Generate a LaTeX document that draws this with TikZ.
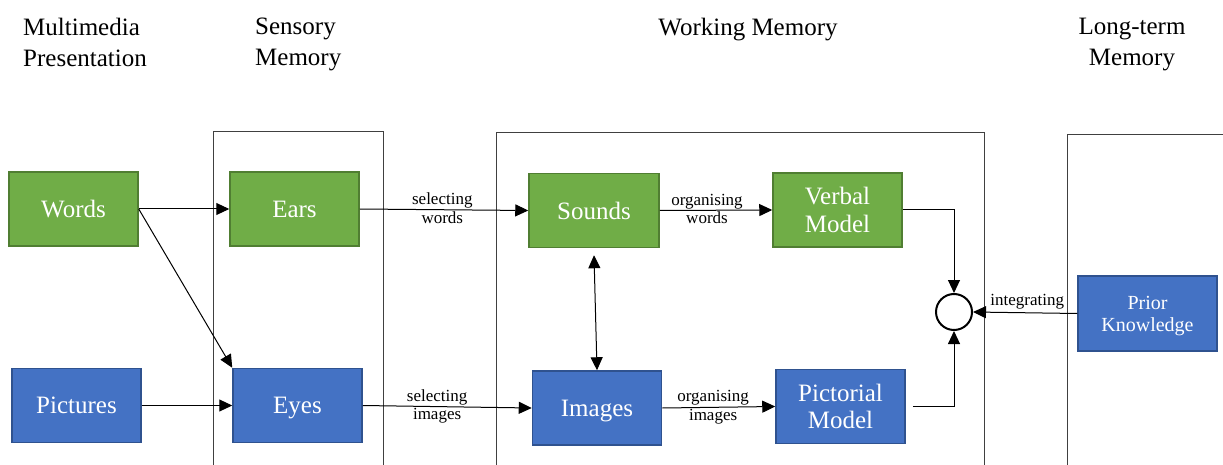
\documentclass[tikz,border=0pt]{standalone}
\usepackage{fontspec}
\setmainfont{Liberation Serif}
\usetikzlibrary{arrows.meta}

\definecolor{wordgreen}{HTML}{70AD47}
\definecolor{wordgreenedge}{HTML}{507E32}
\definecolor{picblue}{HTML}{4472C4}
\definecolor{picblueedge}{HTML}{2F528F}
\definecolor{framegray}{HTML}{404040}

\tikzset{
  stagebox/.style={rectangle, minimum width=129pt, minimum height=74pt,
    inner sep=0pt, line width=1.5pt, text=white, align=center,
    font=\fontsize{25}{27.5}\selectfont},
  % one-line labels are centred on their capitals, descenders ignored
  oneline/.style={text depth=0pt},
  greenbox/.style={stagebox, fill=wordgreen, draw=wordgreenedge},
  bluebox/.style={stagebox, fill=picblue, draw=picblueedge},
  heading/.style={inner sep=0pt, font=\fontsize{25}{31}\selectfont},
  steplabel/.style={inner sep=0pt, align=center, font=\fontsize{17}{18.5}\selectfont},
  flow/.style={draw=black, line width=1pt, -{Triangle[length=13pt,width=12pt]}},
  twoway/.style={draw=black, line width=1pt,
    {Triangle[length=13pt,width=12pt]}-{Triangle[length=13pt,width=12pt]}},
  frameline/.style={draw=framegray, line width=1pt},
  joint/.style={circle, draw=black, line width=2pt, minimum size=36pt, inner sep=0pt, fill=white}
}

\begin{document}
\begin{tikzpicture}[x=1pt, y=-1pt]
  \useasboundingbox (0,0) rectangle (1223,465);

  % column headings
  \node[heading, anchor=north west, align=left] (hmulti) at (23,18) {Multimedia\\Presentation};
  \node[heading, anchor=north west, align=left] (hsensory) at (255,18) {Sensory\\Memory};
  \node[heading, anchor=north] (hworking) at (748,18) {Working Memory};
  \node[heading, anchor=north, align=center] (hlong) at (1132,18) {Long-term\\Memory};

  % memory stores (open at the bottom)
  \draw[frameline] (213,465) |- (383,132) -- (383,465);
  \draw[frameline] (496,465) |- (984,133) -- (984,465);
  \draw[frameline] (1067,465) |- (1224,135);

  % stages
  \node[greenbox, oneline] (words) at (73.5,209) {Words};
  \node[bluebox, oneline] (pictures) at (76.5,405.5) {Pictures};
  \node[greenbox, oneline] (ears) at (294.5,209) {Ears};
  \node[bluebox, oneline] (eyes) at (297.5,405.5) {Eyes};
  \node[greenbox, oneline, minimum width=130pt] (sounds) at (594,210.5) {Sounds};
  \node[bluebox, oneline] (images) at (597,408) {Images};
  \node[greenbox] (verbal) at (837.5,210) {Verbal\\Model};
  \node[bluebox] (pictorial) at (840.5,406.5) {Pictorial\\Model};
  \node[bluebox, minimum width=139pt, minimum height=75pt,
        font=\fontsize{20}{22}\selectfont] (prior) at (1147.5,313.5) {Prior\\Knowled\smash{g}e};
  \node[joint] (merge) at (954,312) {};

  % connections
  \draw[flow] (words.east) -- (ears.west);
  \draw[flow] (words.east) -- (eyes.north west);
  \draw[flow] (pictures.east) -- (eyes.west);
  \draw[flow] (ears.east) -- node[steplabel, pos=0.49, yshift=1.5pt] {selecting\\words} (sounds.west);
  \draw[flow] (eyes.east) -- node[steplabel, pos=0.44] {selecting\\images} (images.west);
  \draw[flow] (sounds.east) -- node[steplabel, pos=0.42, yshift=1.5pt] {organising\\words} (verbal.west);
  \draw[flow] (images.east) -- node[steplabel, pos=0.45] {organising\\images} (pictorial.west);
  \draw[twoway] ([yshift=-7pt]sounds.south) -- (images.north);
  \draw[flow] (verbal.east) -| (merge.north);
  \draw[flow] ([xshift=7pt]pictorial.east) -| (merge.south);
  \draw[flow] (prior.west) -- node[steplabel, above=3pt, pos=0.48] {integrating} (merge.east);
\end{tikzpicture}
\end{document}
